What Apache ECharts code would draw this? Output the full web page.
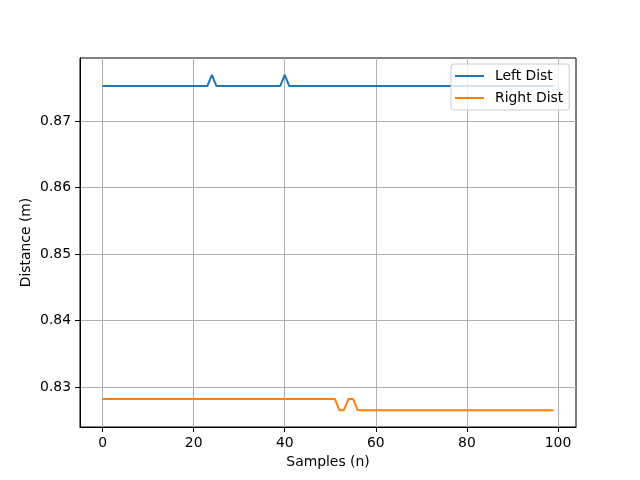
<!DOCTYPE html>
<html>
<head>
<meta charset="utf-8">
<script src="https://cdn.jsdelivr.net/npm/echarts@6/dist/echarts.min.js"></script>
<style>html,body{margin:0;padding:0;background:#fff;}#c{width:640px;height:480px;}</style>
</head>
<body>
<div id="c"></div>
<script>
const leftDist = [
0.8753,0.8753,0.8753,0.8753,0.8753,0.8753,0.8753,0.8753,0.8753,0.8753,
0.8753,0.8753,0.8753,0.8753,0.8753,0.8753,0.8753,0.8753,0.8753,0.8753,
0.8753,0.8753,0.8753,0.8753,0.8770,0.8753,0.8753,0.8753,0.8753,0.8753,
0.8753,0.8753,0.8753,0.8753,0.8753,0.8753,0.8753,0.8753,0.8753,0.8753,
0.8770,0.8753,0.8753,0.8753,0.8753,0.8753,0.8753,0.8753,0.8753,0.8753,
0.8753,0.8753,0.8753,0.8753,0.8753,0.8753,0.8753,0.8753,0.8753,0.8753,
0.8753,0.8753,0.8753,0.8753,0.8753,0.8753,0.8753,0.8753,0.8753,0.8753,
0.8753,0.8753,0.8753,0.8753,0.8753,0.8753,0.8753,0.8753,0.8753,0.8753,
0.8753,0.8753,0.8753,0.8753,0.8753,0.8753,0.8753,0.8753,0.8753,0.8753,
0.8753,0.8753,0.8753,0.8753,0.8753,0.8753,0.8753,0.8753,0.8753,0.8753
];
const rightDist = [
0.8282,0.8282,0.8282,0.8282,0.8282,0.8282,0.8282,0.8282,0.8282,0.8282,
0.8282,0.8282,0.8282,0.8282,0.8282,0.8282,0.8282,0.8282,0.8282,0.8282,
0.8282,0.8282,0.8282,0.8282,0.8282,0.8282,0.8282,0.8282,0.8282,0.8282,
0.8282,0.8282,0.8282,0.8282,0.8282,0.8282,0.8282,0.8282,0.8282,0.8282,
0.8282,0.8282,0.8282,0.8282,0.8282,0.8282,0.8282,0.8282,0.8282,0.8282,
0.8282,0.8282,0.8265,0.8265,0.8282,0.8282,0.8265,0.8265,0.8265,0.8265,
0.8265,0.8265,0.8265,0.8265,0.8265,0.8265,0.8265,0.8265,0.8265,0.8265,
0.8265,0.8265,0.8265,0.8265,0.8265,0.8265,0.8265,0.8265,0.8265,0.8265,
0.8265,0.8265,0.8265,0.8265,0.8265,0.8265,0.8265,0.8265,0.8265,0.8265,
0.8265,0.8265,0.8265,0.8265,0.8265,0.8265,0.8265,0.8265,0.8265,0.8265
];
const xTicks = [0, 20, 40, 60, 80, 100];
const yTicks = [0.83, 0.84, 0.85, 0.86, 0.87];
const seriesNames = ['Left Dist', 'Right Dist'];
const colors = ['#1f77b4', '#ff7f0e'];

const toPairs = arr => arr.map((v, i) => [i, v]);
const font = 'DejaVu Sans';
const lineIcon = 'path://M0,0h0.01v0.01h-0.01Z M0,6h29v2h-29Z M28.99,13.99h0.01v0.01h-0.01Z';
const chart = echarts.init(document.getElementById('c'), null, {renderer: 'canvas'});
chart.setOption({
  animation: false,
  backgroundColor: '#fff',
  grid: {left: 80, right: 64, top: 58, bottom: 53, show: true, borderColor: '#000', borderWidth: 1, backgroundColor: 'transparent'},
  legend: {
    orient: 'vertical', left: 451, top: 64,
    padding: [5, 6, 5, 4], itemGap: 8, itemWidth: 29, itemHeight: 14,
    backgroundColor: 'rgba(255,255,255,0.8)', borderColor: '#cccccc', borderWidth: 1, borderRadius: 3,
    textStyle: {fontFamily: font, fontSize: 13.9, color: '#000', padding: [0, 0, 0, 6]},
    data: seriesNames.map(n => ({name: n, icon: lineIcon}))
  },
  xAxis: {
    type: 'value', min: -4.95, max: 103.95,
    name: 'Samples (n)', nameLocation: 'middle', nameGap: 28, nameMoveOverlap: false,
    nameTextStyle: {fontFamily: font, fontSize: 13.9, color: '#000'},
    axisLine: {show: true, onZero: false, lineStyle: {color: '#000', width: 1}},
    axisTick: {show: true, length: 5, lineStyle: {color: '#000', width: 1}, customValues: xTicks},
    axisLabel: {fontFamily: font, fontSize: 13.9, color: '#000', margin: 9, customValues: xTicks, showMinLabel: true, showMaxLabel: true},
    splitLine: {show: true, lineStyle: {color: '#b0b0b0', width: 1}}
  },
  yAxis: {
    type: 'value', min: 0.823975, max: 0.879525,
    name: 'Distance (m)', nameLocation: 'middle', nameGap: 47, nameMoveOverlap: false,
    nameTextStyle: {fontFamily: font, fontSize: 13.9, color: '#000'},
    axisLine: {show: true, onZero: false, lineStyle: {color: '#000', width: 1}},
    axisTick: {show: true, length: 5, lineStyle: {color: '#000', width: 1}, customValues: yTicks},
    axisLabel: {fontFamily: font, fontSize: 13.9, color: '#000', margin: 9, customValues: yTicks, formatter: v => v.toFixed(2)},
    splitLine: {show: true, lineStyle: {color: '#b0b0b0', width: 1}}
  },
  series: [
    {name: seriesNames[0], type: 'line', data: toPairs(leftDist), symbol: 'none', color: colors[0], lineStyle: {width: 2, color: colors[0]}},
    {name: seriesNames[1], type: 'line', data: toPairs(rightDist), symbol: 'none', color: colors[1], lineStyle: {width: 2, color: colors[1]}}
  ]
});
</script>
</body>
</html>
